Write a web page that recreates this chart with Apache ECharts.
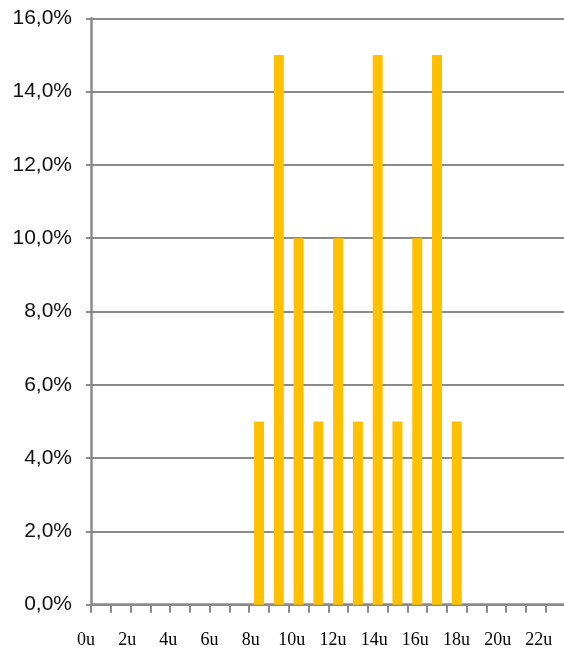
<!DOCTYPE html>
<html>
<head>
<meta charset="utf-8">
<script src="https://cdn.jsdelivr.net/npm/echarts@6/dist/echarts.min.js"></script>
<style>
html,body{margin:0;padding:0;background:#fff;overflow:hidden;width:564px;height:652px;}
#chart{width:600px;height:652px;}
</style>
</head>
<body>
<div id="chart"></div>
<script>
// Data
const hours = ['0','1','2','3','4','5','6','7','8','9','10','11','12','13','14','15','16','17','18','19','20','21','22','23'];
const shares = [0,0,0,0,0,0,0,0,5,15,10,5,10,5,15,5,10,15,5,0,0,0,0,0];
const xTickLabels = ['0u','2u','4u','6u','8u','10u','12u','14u','16u','18u','20u','22u'];
const yTickLabels = ['0,0%','2,0%','4,0%','6,0%','8,0%','10,0%','12,0%','14,0%','16,0%'];

const gray = '#8a8a8a';
const chart = echarts.init(document.getElementById('chart'), null, {renderer:'canvas'});
chart.setOption({
  animation:false,
  backgroundColor:'#fff',
  grid:[
    {left:91, top:18.3, bottom:47.3, right:34.5},
    {left:86, top:18.3, bottom:47.3, right:20}
  ],
  xAxis:[
    {
      type:'category', gridIndex:0, data:hours, boundaryGap:true,
      axisLine:{show:true, lineStyle:{color:gray, width:2.5}},
      axisTick:{show:true, interval:0, length:8, lineStyle:{color:gray, width:2}},
      axisLabel:{show:false},
      splitLine:{show:false}
    },
    {
      type:'value', gridIndex:1, min:0, max:24, interval:2,
      axisLine:{show:false}, axisTick:{show:false}, splitLine:{show:false},
      axisLabel:{
        show:true, margin:27, color:'#000',
        fontFamily:'"Liberation Serif","Times New Roman",serif', fontSize:18,
        formatter:function(v){ const i = Math.round(v/2); return i < xTickLabels.length ? xTickLabels[i] : ''; }
      }
    }
  ],
  yAxis:[
    {
      type:'value', gridIndex:0, min:0, max:16, interval:2,
      axisLine:{show:true, lineStyle:{color:gray, width:2.5}},
      axisTick:{show:true, length:5, lineStyle:{color:gray, width:2}},
      splitLine:{show:true, lineStyle:{color:gray, width:2}},
      axisLabel:{
        show:true, margin:19, color:'#111',
        fontFamily:'"Liberation Sans",Arial,sans-serif', fontSize:21,
        verticalAlign:'middle', lineHeight:21,
        padding:[7,0,0,0],
        formatter:function(v){ return yTickLabels[Math.round(v/2)]; }
      }
    },
    {type:'value', gridIndex:1, min:0, max:16, show:false}
  ],
  series:[
    {
      type:'bar', xAxisIndex:0, yAxisIndex:0, data:shares, barWidth:10,
      itemStyle:{color:'#FFC000'}
    },
    {type:'scatter', xAxisIndex:1, yAxisIndex:1, data:[], silent:true}
  ]
});
</script>
</body>
</html>
